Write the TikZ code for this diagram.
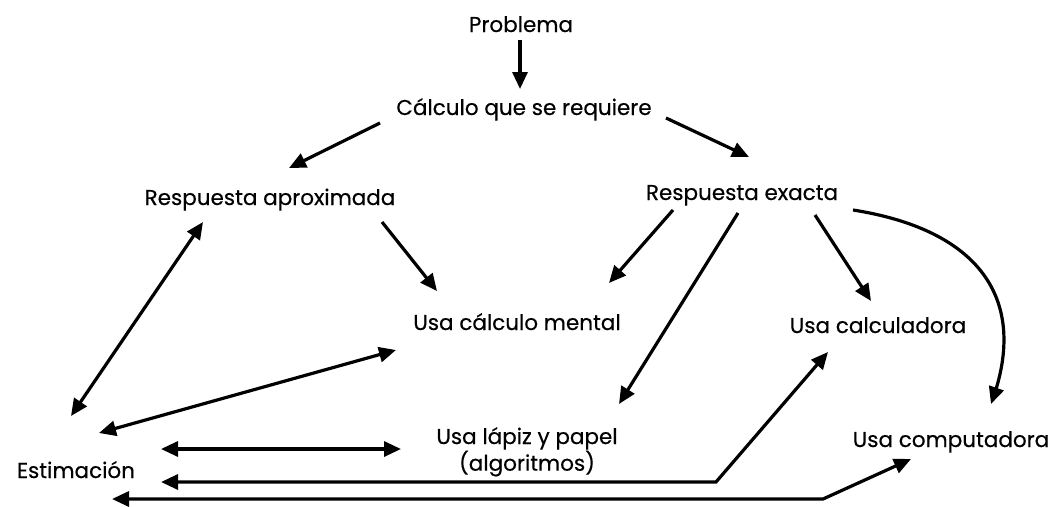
\documentclass[tikz,border=0pt]{standalone}
\usepackage{fontspec}
\setmainfont{Poppins}
\newfontfamily\lblfont{Poppins}[FakeBold=0.4]
\usetikzlibrary{arrows.meta,bending}
\begin{document}
\begin{tikzpicture}[x=1pt,y=-1pt,
  lbl/.style={inner sep=0pt,anchor=base,font=\lblfont\fontsize{21.5}{25}\selectfont,align=center},
  con/.style={line width=3.2pt,-{Triangle[length=17pt,width=15pt]}},
  bicon/.style={line width=3.2pt,{Triangle[length=17pt,width=15pt]}-{Triangle[length=17pt,width=15pt]}}]
\useasboundingbox (0,0) rectangle (1056,506);
\node[lbl] (prob) at (521,32) {Problema};
\node[lbl] (calc) at (524,115) {Cálculo que se requiere};
\node[lbl] (rapr) at (270,205) {Respuesta aproximada};
\node[lbl] (rexa) at (742,200) {Respuesta exacta};
\node[lbl] (ment) at (517,330) {Usa cálculo mental};
\node[lbl] (calcu) at (878,333) {Usa calculadora};
\node[lbl,anchor=north] (lapiz) at (527,427) {Usa lápiz y papel\\(algoritmos)};
\node[lbl] (comp) at (951,447) {Usa computadora};
\node[lbl] (esti) at (76,478) {Estimación};
% connector ends
\coordinate (p1) at (520,40);  \coordinate (c1) at (520,89);
\coordinate (c2) at (380,123); \coordinate (ra1) at (289,168);
\coordinate (c3) at (666,118); \coordinate (re1) at (749,157);
\coordinate (ra2) at (382,222); \coordinate (m1) at (437,291);
\coordinate (re2) at (673,210); \coordinate (m2) at (609,283);
\coordinate (re3) at (738,213); \coordinate (l1) at (619,404);
\coordinate (re4) at (815,215); \coordinate (k1) at (871,301);
\coordinate (re5) at (853,210); \coordinate (co1) at (991,404);
\coordinate (ra3) at (203,222); \coordinate (e1) at (71,416);
\coordinate (e2) at (99,433); \coordinate (m3) at (396,350);
\coordinate (e3) at (161,449); \coordinate (l2) at (401,449);
\coordinate (e4) at (161,482); \coordinate (b1) at (716,482); \coordinate (k2) at (828,352);
\coordinate (e5) at (112,499); \coordinate (b2) at (823,499); \coordinate (co2) at (911,459);
\draw[con] (p1) -- (c1);
\draw[con] (c2) -- (ra1);
\draw[con] (c3) -- (re1);
\draw[con] (ra2) -- (m1);
\draw[con] (re2) -- (m2);
\draw[con] (re3) -- (l1);
\draw[con] (re4) -- (k1);
\draw[con] (re5) .. controls (980,230) and (1030,300) .. (co1);
\draw[bicon] (ra3) -- (e1);
\draw[bicon] (e2) -- (m3);
\draw[bicon] (e3) -- (l2);
\draw[bicon] (e4) -- (b1) -- (k2);
\draw[bicon] (e5) -- (b2) -- (co2);
\end{tikzpicture}
\end{document}
